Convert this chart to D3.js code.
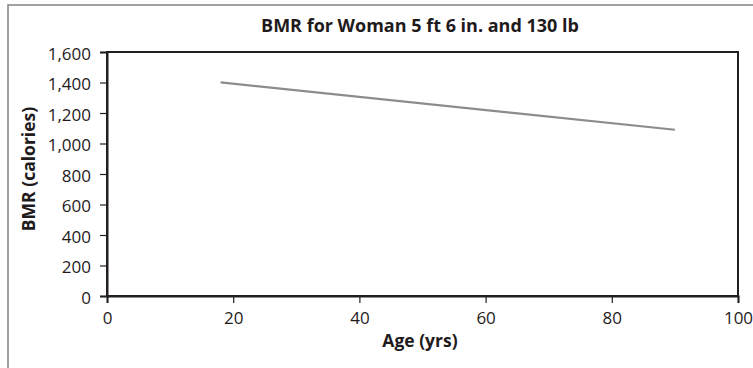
<!DOCTYPE html>
<html>
<head>
<meta charset="utf-8">
<script src="https://cdn.jsdelivr.net/npm/d3@7/dist/d3.min.js"></script>
<style>
  html, body { margin: 0; padding: 0; background: #fff; }
  svg { display: block; font-family: "Open Sans", "Noto Sans", sans-serif; }
</style>
</head>
<body>
<svg id="chart" width="753" height="368"></svg>
<script>
// BMR estimate for a woman, 5 ft 6 in. and 130 lb, across age
const ages = [18, 90];
const bmr = [1401, 1090];
const xTicks = [0, 20, 40, 60, 80, 100];
const yTicks = [0, 200, 400, 600, 800, 1000, 1200, 1400, 1600];

const title = "BMR for Woman 5 ft 6 in. and 130 lb";
const xTitle = "Age (yrs)";
const yTitle = "BMR (calories)";

const W = 753, H = 368;
const plot = { left: 107, top: 52, right: 738, bottom: 296 };
const axisColor = "#231f20";
const textColor = "#1f1b1c";

const svg = d3.select("#chart");

// outer frame of the chart area
svg.append("rect")
  .attr("x", 8).attr("y", 5)
  .attr("width", W).attr("height", H)
  .attr("fill", "#fff")
  .attr("stroke", "#8a8a8a")
  .attr("stroke-width", 1.6);

const x = d3.scaleLinear().domain([0, 100]).range([plot.left, plot.right]);
const y = d3.scaleLinear().domain([0, 1600]).range([plot.bottom, plot.top]);

// plot box
svg.append("rect")
  .attr("x", plot.left).attr("y", plot.top)
  .attr("width", plot.right - plot.left)
  .attr("height", plot.bottom - plot.top)
  .attr("fill", "none")
  .attr("stroke", axisColor)
  .attr("stroke-width", 2);

// axes
const xAxis = svg.append("g")
  .attr("transform", `translate(0,${plot.bottom})`)
  .call(d3.axisBottom(x).tickValues(xTicks).tickSize(7).tickPadding(9)
    .tickFormat(d3.format("d")));
const yAxis = svg.append("g")
  .attr("transform", `translate(${plot.left},0)`)
  .call(d3.axisLeft(y).tickValues(yTicks).tickSize(7).tickPadding(9)
    .tickFormat(d3.format(",")));

[xAxis, yAxis].forEach(g => {
  g.select(".domain").attr("stroke", axisColor).attr("stroke-width", 2);
  g.selectAll(".tick line").attr("stroke", axisColor).attr("stroke-width", 1.2);
  g.selectAll(".tick text")
    .attr("fill", textColor)
    .style("font-size", "17px")
    .style("font-family", "\"Open Sans\", sans-serif");
});
yAxis.selectAll(".tick text").attr("dy", "0.42em");

// data line
const line = d3.line().x((d, i) => x(ages[i])).y(d => y(d));
svg.append("path")
  .datum(bmr)
  .attr("d", line)
  .attr("fill", "none")
  .attr("stroke", "#8c8c8c")
  .attr("stroke-width", 2.2);

// titles
svg.append("text")
  .attr("x", 420).attr("y", 32)
  .attr("text-anchor", "middle")
  .attr("fill", textColor)
  .style("font-weight", "bold")
  .style("font-size", "18px")
  .text(title);

svg.append("text")
  .attr("x", 420).attr("y", 347)
  .attr("text-anchor", "middle")
  .attr("fill", textColor)
  .style("font-weight", "bold")
  .style("font-size", "17.5px")
  .text(xTitle);

svg.append("text")
  .attr("transform", `translate(35,169) rotate(-90)`)
  .attr("text-anchor", "middle")
  .attr("fill", textColor)
  .style("font-weight", "bold")
  .style("font-size", "17.5px")
  .text(yTitle);
</script>
</body>
</html>
